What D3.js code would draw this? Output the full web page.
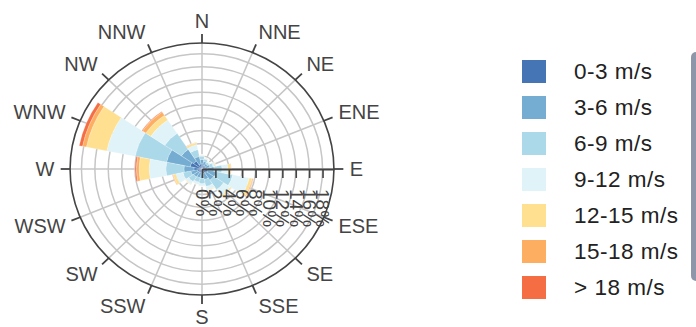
<!DOCTYPE html>
<html><head><meta charset="utf-8">
<script src="https://cdn.jsdelivr.net/npm/d3@7"></script>
<style>
body{margin:0;background:#fff}
svg{display:block}
text{font-family:"Liberation Sans",Arial,sans-serif}
</style>
</head><body>
<svg id="chart" width="696" height="327"></svg>
<script>
// ---- data ----
const directions = ["N","NNE","NE","ENE","E","ESE","SE","SSE","S","SSW","SW","WSW","W","WNW","NW","NNW"];
const speedBins = ["0-3 m/s","3-6 m/s","6-9 m/s","9-12 m/s","12-15 m/s","15-18 m/s","> 18 m/s"];
const binColors = ["#4575b4","#74add1","#abd9e9","#e0f3f8","#fee090","#fdae61","#f46d43"];
// frequency (%) per direction for each speed bin
const s0_3   = [0.8,0.6,0.5,0.6,0.8,0.9,0.8,0.7,0.6,0.6,0.6,0.7,1.2,1.8,1.5,0.8];
const s3_6   = [0.7,0.6,0.5,0.6,1.0,1.3,1.3,1.0,0.9,0.8,0.9,1.0,1.5,3.6,2.2,1.2];
const s6_9   = [0.5,0.4,0.3,0.5,1.2,2.5,1.8,1.1,0.8,0.7,0.9,1.2,2.7,4.8,3.0,1.1];
const s9_12  = [0.2,0.2,0.2,0.3,0.9,2.5,1.2,0.6,0.4,0.4,0.5,1.1,2.5,4.3,2.5,0.8];
const s12_15 = [0.05,0.05,0.03,0.1,0.4,0.45,0.2,0.1,0.05,0.05,0.1,0.4,1.5,3.1,0.9,0.3];
const s15_18 = [0,0,0,0.02,0.1,0.15,0.05,0.02,0,0,0.02,0.1,0.4,0.6,0.6,0.05];
const s18p   = [0,0,0,0,0,0.03,0,0,0,0,0,0.03,0.2,0.5,0.1,0.02];
const radialTicks = [0,2,4,6,8,10,12,14,16,18];
const radialMax = 19.7;

const seriesValues = [s0_3,s3_6,s6_9,s9_12,s12_15,s15_18,s18p];
const table = directions.map((d,i)=>{
  const row = {direction:d};
  speedBins.forEach((b,j)=>row[b]=seriesValues[j][i]);
  return row;
});

// ---- layout ----
const svg = d3.select("#chart");
const cx = 202, cy = 169, R = 126, sx = 1.047;
const axisColor = "#444", gridColor = "#c6c6c6";

const ang = d3.scaleBand().domain(directions)
  .range([-Math.PI/16, 2*Math.PI - Math.PI/16]).padding(0);
const rad = d3.scaleLinear().domain([0, radialMax]).range([0, R]);
const color = d3.scaleOrdinal().domain(speedBins).range(binColors);

const polar = svg.append("g").attr("transform",`translate(${cx},${cy}) scale(${sx},1)`);

// grid circles
polar.append("g").selectAll("circle").data(radialTicks.filter(t=>t>0)).join("circle")
  .attr("r", d=>rad(d)).attr("fill","none").attr("stroke",gridColor)
  .attr("stroke-width",1.5).attr("vector-effect","non-scaling-stroke");
// angular grid lines
polar.append("g").selectAll("line").data(directions).join("line")
  .attr("x1",0).attr("y1",0)
  .attr("x2", d=>R*Math.sin(ang(d)+ang.bandwidth()/2))
  .attr("y2", d=>-R*Math.cos(ang(d)+ang.bandwidth()/2))
  .attr("stroke",gridColor).attr("stroke-width",1.5).attr("vector-effect","non-scaling-stroke");

// stacked bars
const stacked = d3.stack().keys(speedBins)(table);
const arc = d3.arc()
  .innerRadius(d=>rad(d[0])).outerRadius(d=>rad(d[1]))
  .startAngle(d=>ang(d.data.direction)).endAngle(d=>ang(d.data.direction)+ang.bandwidth());
polar.append("g").selectAll("g").data(stacked).join("g")
  .attr("fill", d=>color(d.key))
  .selectAll("path").data(d=>d).join("path")
  .attr("d", arc)
  .attr("stroke","#fff").attr("stroke-width",0.4).attr("stroke-opacity",0.6)
  .attr("vector-effect","non-scaling-stroke");

// outer circle
polar.append("circle").attr("r",R).attr("fill","none").attr("stroke",axisColor)
  .attr("stroke-width",1.6).attr("vector-effect","non-scaling-stroke");
// angular ticks
const tickLen = 9;
polar.append("g").selectAll("line").data(directions).join("line")
  .attr("x1", d=>R*Math.sin(ang(d)+ang.bandwidth()/2))
  .attr("y1", d=>-R*Math.cos(ang(d)+ang.bandwidth()/2))
  .attr("x2", d=>(R+tickLen)*Math.sin(ang(d)+ang.bandwidth()/2))
  .attr("y2", d=>-(R+tickLen)*Math.cos(ang(d)+ang.bandwidth()/2))
  .attr("stroke",axisColor).attr("stroke-width",1.8).attr("vector-effect","non-scaling-stroke");

// angular labels
const labR = 141, halfH = 7.3;
svg.append("g").selectAll("text").data(directions).join("text")
  .each(function(d){
    const a = ang(d)+ang.bandwidth()/2;
    const s = Math.sin(a), c = Math.cos(a);
    const x = cx + labR*s*sx;
    const y = cy - labR*c - c*halfH;
    d3.select(this).attr("x",x).attr("y",y)
      .attr("text-anchor", Math.abs(s)<1e-3 ? "middle" : (s>0 ? "start" : "end"));
  })
  .attr("dy","0.35em").attr("font-size",20).attr("fill",axisColor)
  .text(d=>d);

// radial axis along East
const radScreen = d3.scaleLinear().domain([0, radialMax]).range([0, R*sx]);
const radAxis = svg.append("g").attr("transform",`translate(${cx},${cy})`)
  .call(d3.axisBottom(radScreen).tickValues(radialTicks).tickSize(9).tickSizeOuter(0)
    .tickFormat(d=>d+"%"));
radAxis.select(".domain").attr("stroke",axisColor).attr("stroke-width",2);
radAxis.selectAll(".tick line").attr("stroke",axisColor).attr("stroke-width",1.6);
radAxis.selectAll(".tick text")
  .attr("x",20).attr("y",0).attr("dy","0.35em")
  .attr("text-anchor","start").attr("transform","rotate(90)")
  .attr("font-size",19).attr("fill",axisColor)
  .style("font-family",'"Liberation Sans",Arial,sans-serif');

// legend
const legend = svg.append("g");
const legItems = legend.selectAll("g").data(speedBins).join("g")
  .attr("transform",(d,i)=>`translate(522,${71.5+i*36})`);
legItems.append("rect").attr("x",0).attr("y",-11.5).attr("width",24).attr("height",23)
  .attr("fill",d=>color(d));
legItems.append("text").attr("x",52).attr("y",0).attr("dy","0.35em")
  .attr("font-size",22.5).attr("letter-spacing","0.5px").attr("fill","#222")
  .text(d=>d);
// legend frame edge at the right border
svg.append("rect").attr("x",691).attr("y",52).attr("width",14).attr("height",229)
  .attr("rx",5).attr("fill","#8e97aa");
</script>
</body></html>
